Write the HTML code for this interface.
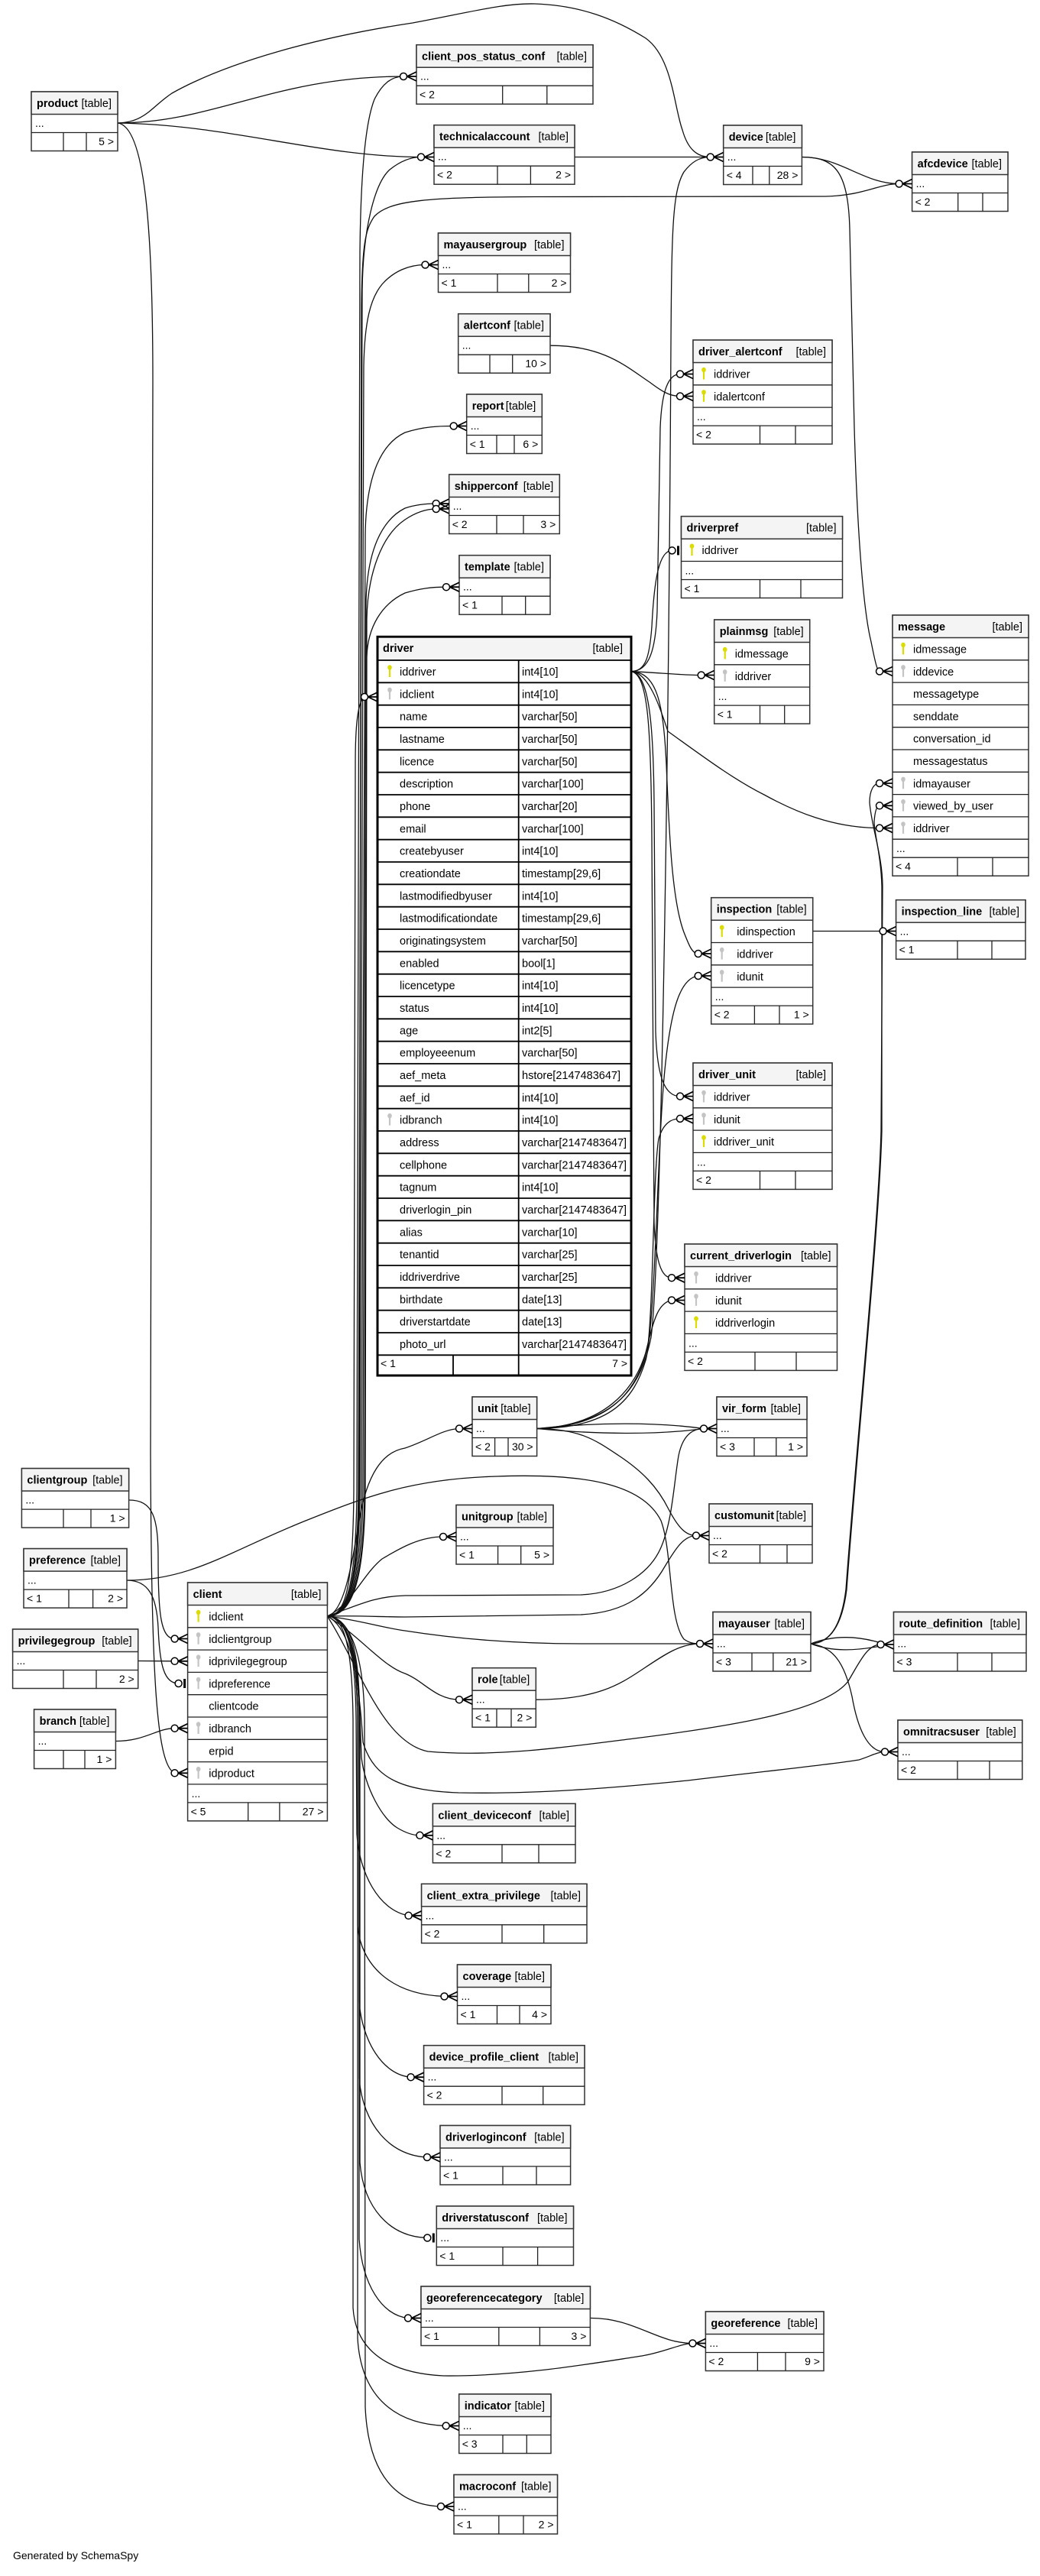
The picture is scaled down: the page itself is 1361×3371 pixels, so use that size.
<!DOCTYPE html>
<html><head><meta charset="utf-8"><title>SchemaSpy diagram</title>
<style>
html,body{margin:0;padding:0;background:#fff;}
svg{display:block;}
text{font-family:"Liberation Sans",Arial,sans-serif;font-size:14.5px;fill:#000;}
.t{font-weight:bold;}
.r{text-anchor:end;}
.s{font-size:14px;}
.b{fill:#fff;stroke:#333;stroke-width:1.5;}
.h{fill:#f4f4f4;stroke:#333;stroke-width:1.5;}
.l{fill:none;stroke:#222;stroke-width:1.3;}
.e{fill:none;stroke:#111;stroke-width:1.3;}
</style></head>
<body>
<svg xmlns="http://www.w3.org/2000/svg" width="1361" height="3371" viewBox="0 0 1361 3371">
<defs>
<g id="cr"><path d="M-12.5,0L0,-6M-12.5,0L0,0M-12.5,0L0,6" stroke="#000" stroke-width="1.8" fill="none"/><circle cx="-17" cy="0" r="4.5" fill="#fff" stroke="#000" stroke-width="1.5"/></g>
<g id="ob"><path d="M-4,-6L-4,6" stroke="#000" stroke-width="3"/><circle cx="-12" cy="0" r="4.5" fill="#fff" stroke="#000" stroke-width="1.5"/></g>
<g id="kp" fill="#dcdc00"><ellipse cx="0" cy="0" rx="2.8" ry="3.2"/><rect x="-1.1" y="1.5" width="2.2" height="11"/></g>
<g id="kf" fill="#c4c4c4"><ellipse cx="0" cy="0" rx="2.8" ry="3.2"/><rect x="-1.1" y="1.5" width="2.2" height="11"/></g>
</defs>
<rect width="1361" height="3371" fill="#fff"/>

<!-- EDGES -->
<g class="e">
<path d="M154,161 C280,161 360,100 528,100"/>
<path d="M154,161 C300,163 420,205.5 551,205.5"/>
<path d="M154,161 C190,160 198,140 225,122 C300,80 420,48 540,30 C620,15 660,4 700,5 C760,7 805,25 845,50 C880,75 882,140 893,170 C900,195 912,205.5 929.7,205.5"/>
<path d="M154,161 C190,165 200,300 200,500 L197,1900 C198,2200 205,2310 228.6,2320.3"/>
<path d="M168.6,1963 C200,1963 207,1985 207,2040 C207,2110 210,2144.5 228.6,2144.5"/>
<path d="M166,2068 C195,2068 205,2090 207,2130 C209,2180 215,2203 233.6,2203"/>
<path d="M166,2068 C250,2068 300,2030 400,1990 C480,1958 540,1935 650,1932 C760,1928 840,1940 865,1990 C880,2030 875,2120 895,2145 C902,2150 908,2151 916,2151"/>
<path d="M180.7,2173.5 L228.6,2173.8"/>
<path d="M151.4,2278.5 C190,2278.5 205,2261.7 228.6,2261.7"/>

<path d="M428.4,2115 C452,2114 462,2080 463,1950 L465,1000 C465,950 468,918 477,912"/>
<path d="M428.4,2115 C455,2114 466,2070 467,1950 L471,330 C472,230 478,160 490,130 C500,110 512,100 528,100"/>
<path d="M428.4,2115 C456,2114 468,2070 469,1950 L474,380 C475,300 490,240 510,222 C525,210 538,205.5 551,205.5"/>
<path d="M428.4,2115 C457,2114 470,2070 471,1950 L476,480 C477,420 485,390 500,372 C515,355 535,346.5 556.5,346.5"/>
<path d="M428.4,2115 C456,2114 469,2070 470,1950 L473,400 C474,320 478,300 490,283 C510,262 560,258 700,257.5 L1080,257 C1130,256 1150,240.5 1176.6,240.5"/>
<path d="M428.4,2115 C458,2114 472,2070 473,1950 L478,700 C479,620 500,580 530,566 C555,558 575,557.5 593.7,557.5"/>
<path d="M428.4,2115 C459,2114 474,2070 475,1950 L479,790 C480,720 500,680 530,665 C545,660 558,659 570.7,659"/>
<path d="M428.4,2115 C460,2114 476,2070 477,1950 L480,810 C481,750 500,700 530,680 C545,670 558,666 570.7,666"/>
<path d="M428.4,2115 C461,2114 477,2070 478,1950 L480,860 C481,820 500,790 530,776 C550,770 565,768.2 584,768.2"/>

<path d="M428.4,2115 C455,2116 468,2150 470,2220 L473,2300 C478,2340 500,2380 520,2392 C530,2398 540,2401.8 549.4,2401.8"/>
<path d="M428.4,2115 C455,2116 465,2160 466,2250 L467,2400 C470,2450 495,2500 534.6,2506.8"/>
<path d="M428.4,2115 C455,2116 467,2160 468,2250 L468,2520 C472,2570 510,2610 581.5,2612.5"/>
<path d="M428.4,2115 C455,2116 469,2160 470,2250 L470,2620 C474,2670 500,2715 537.6,2718.2"/>
<path d="M428.4,2115 C455,2116 469,2160 470,2250 L470,2720 C475,2780 510,2821 559,2823"/>
<path d="M428.4,2115 C455,2116 470,2160 471,2250 L471,2830 C476,2890 510,2927 559.3,2928.5"/>
<path d="M428.4,2115 C455,2116 469,2160 470,2250 L470,2930 C474,2990 500,3030 534,3033.5"/>
<path d="M428.4,2115 C452,2116 461,2160 462,2250 L462,3020 C465,3070 500,3105 580,3109 C680,3110 780,3092 840,3083 C870,3078 890,3067 906.4,3066.5"/>
<path d="M428.4,2115 C455,2116 467,2160 468,2250 L468,3060 C472,3130 510,3172 583.7,3174.5"/>
<path d="M428.4,2115 C456,2116 476,2160 477,2250 L478,3150 C482,3240 520,3278 577,3280"/>

<path d="M428.4,2115 C450,2110 460,2050 470,1990 C480,1930 500,1900 530,1895 C560,1885 580,1870 601,1869.5"/>
<path d="M428.4,2115 C460,2100 475,2060 500,2040 C525,2025 550,2011 580,2011"/>
<path d="M428.4,2115 C470,2100 490,2089 530,2088 L760,2087 C810,2085 850,2060 865,2025 C880,1990 882,1940 888,1905 C893,1880 905,1869.5 921,1869.5"/>
<path d="M428.4,2115 C470,2114 500,2116 530,2116 L760,2113 C820,2110 850,2085 870,2050 C885,2025 895,2010 911,2009.5"/>
<path d="M428.4,2115 C470,2120 500,2130 530,2134 C600,2145 680,2151 760,2151 L916,2151"/>
<path d="M428.4,2115 C470,2140 500,2180 530,2190 C555,2200 570,2224 601,2224.2"/>
<path d="M428.4,2115 C470,2180 500,2280 560,2292 C650,2300 750,2285 830,2275 C950,2260 1080,2240 1110,2200 C1125,2175 1135,2152 1152.5,2152"/>
<path d="M428.4,2115 C460,2130 470,2200 475,2280 C490,2330 530,2343 600,2346 C700,2348 800,2340 900,2330 C1000,2318 1080,2310 1124,2303 C1140,2298 1148,2292.5 1158,2292.5"/>

<path d="M702.6,1869.5 C780,1861 860,1861 921,1869.5"/>
<path d="M702.6,1869.5 C780,1877 860,1878 921,1869.5"/>
<path d="M702.6,1869.5 C760,1870 780,1885 810,1905 C840,1925 860,1945 875,1975 C888,2000 898,2009.5 911,2009.5"/>
<path d="M702.6,1869.5 C800,1869 830,1830 845,1780 C858,1730 860,1500 870,1400 C878,1320 890,1280 913.7,1277"/>
<path d="M702.6,1869.5 C800,1866 835,1820 848,1760 C855,1700 855,1530 862,1490 C868,1470 878,1463.9 890,1463.9"/>
<path d="M702.6,1869.5 C790,1866 830,1820 845,1770 C855,1730 860,1705 879,1701.5"/>
<path d="M702.6,1869.5 C810,1864 840,1810 852,1750 C865,1650 875,1000 878,450 C879,300 880,250 895,225 C905,212 915,205.5 929.7,205.5"/>

<path d="M826,878.7 C850,878 858,850 860,800 L864,560 C866,510 875,489.5 890,489.5"/>
<path d="M826,878.7 C845,878 850,860 853,820 C856,760 862,720.4 879.5,720.4"/>
<path d="M826,878.7 C860,880 890,883.5 917.7,883.5"/>
<path d="M826,878.7 C850,880 865,930 874,957 C920,990 960,1020 1000,1040 C1040,1062 1090,1083.6 1151,1083.6"/>
<path d="M826,878.7 C860,880 868,920 872,1000 C876,1100 880,1180 895,1220 C902,1238 906,1248 913.7,1248"/>
<path d="M826,878.7 C850,882 855,950 856,1050 L858,1350 C860,1410 870,1434.6 890,1434.6"/>
<path d="M826,878.7 C848,882 852,950 853,1100 L856,1600 C858,1650 865,1672.2 879,1672.2"/>

<path d="M1049.4,205.5 C1100,205.5 1130,240.5 1176.6,240.5"/>
<path d="M1049.4,205.5 C1090,206 1110,220 1112,300 L1118,560 C1122,700 1130,800 1140,840 C1145,865 1148,878.5 1151,878.5"/>
<path d="M752,205.5 L929.7,205.5"/>
<path d="M720,452.2 C790,452 820,480 850,500 C866,512 876,518.5 890,518.5"/>
<path d="M1063.8,1218.5 L1155.6,1218.5"/>

<path d="M1061,2151 C1090,2140 1120,2140 1152.5,2150"/>
<path d="M1061,2151 C1090,2162 1120,2160 1152.5,2154"/>
<path d="M1061,2151 C1090,2155 1105,2175 1115,2220 C1122,2260 1135,2292.5 1158,2292.5"/>
<path d="M1061,2151 C1090,2150 1102,2120 1107,2080 C1120,1900 1150,1600 1153,1480 L1155,1160 C1155,1120 1140,1080 1138,1050 C1138,1035 1143,1025 1151,1025"/>
<path d="M1061,2151 C1090,2150 1103,2120 1108,2080 C1121,1900 1151,1600 1154,1480 L1154,1160 C1153,1120 1144,1090 1144,1075 C1145,1062 1147,1054.3 1151,1054.3"/>
<path d="M701.3,2224.2 C780,2224 810,2205 840,2185 C870,2165 890,2151 916,2151"/>
<path d="M772.4,3033.5 C830,3033 860,3066.5 906.4,3066.5"/>
</g>

<!-- SIMPLE BOXES -->
<g transform="translate(41,120)"><rect class="b" width="113" height="77.5"/><rect class="h" width="113" height="29.5"/><path class="l" d="M0,53.5H113M42,53.5V77.5M72,53.5V77.5"/><text class="t" x="7" y="20">product</text><text class="r" x="105" y="20">[table]</text><text class="s" x="5" y="46">...</text><text class="s r" x="108" y="70">5 &gt;</text></g>

<g transform="translate(545,58.7)"><rect class="b" width="231" height="77.5"/><rect class="h" width="231" height="29.5"/><path class="l" d="M0,53.5H231M112.7,53.5V77.5M170.8,53.5V77.5"/><text class="t" x="7" y="20">client_pos_status_conf</text><text class="r" x="223" y="20">[table]</text><text class="s" x="5" y="46">...</text><text class="s" x="4" y="70">&lt; 2</text></g>

<g transform="translate(568,163.7)"><rect class="b" width="184" height="77.5"/><rect class="h" width="184" height="29.5"/><path class="l" d="M0,53.5H184M83,53.5V77.5M126.4,53.5V77.5"/><text class="t" x="7" y="20">technicalaccount</text><text class="r" x="176" y="20">[table]</text><text class="s" x="5" y="46">...</text><text class="s" x="4" y="70">&lt; 2</text><text class="s r" x="179" y="70">2 &gt;</text></g>

<g transform="translate(946.7,164)"><rect class="b" width="102.7" height="77.5"/><rect class="h" width="102.7" height="29.5"/><path class="l" d="M0,53.5H102.7M38.3,53.5V77.5M60.1,53.5V77.5"/><text class="t" x="7" y="20">device</text><text class="r" x="94.7" y="20">[table]</text><text class="s" x="5" y="46">...</text><text class="s" x="4" y="70">&lt; 4</text><text class="s r" x="97.7" y="70">28 &gt;</text></g>

<g transform="translate(1193.6,199)"><rect class="b" width="125.4" height="77.5"/><rect class="h" width="125.4" height="29.5"/><path class="l" d="M0,53.5H125.4M60.1,53.5V77.5M92.4,53.5V77.5"/><text class="t" x="7" y="20">afcdevice</text><text class="r" x="117.4" y="20">[table]</text><text class="s" x="5" y="46">...</text><text class="s" x="4" y="70">&lt; 2</text></g>

<g transform="translate(573.5,305)"><rect class="b" width="173" height="77.5"/><rect class="h" width="173" height="29.5"/><path class="l" d="M0,53.5H173M77.5,53.5V77.5M118.3,53.5V77.5"/><text class="t" x="7" y="20">mayausergroup</text><text class="r" x="165" y="20">[table]</text><text class="s" x="5" y="46">...</text><text class="s" x="4" y="70">&lt; 1</text><text class="s r" x="168" y="70">2 &gt;</text></g>

<g transform="translate(599.7,410.7)"><rect class="b" width="120.3" height="77.5"/><rect class="h" width="120.3" height="29.5"/><path class="l" d="M0,53.5H120.3M41.3,53.5V77.5M71,53.5V77.5"/><text class="t" x="7" y="20">alertconf</text><text class="r" x="112.3" y="20">[table]</text><text class="s" x="5" y="46">...</text><text class="s r" x="115.3" y="70">10 &gt;</text></g>

<g transform="translate(610.7,516)"><rect class="b" width="98.6" height="77.5"/><rect class="h" width="98.6" height="29.5"/><path class="l" d="M0,53.5H98.6M39.3,53.5V77.5M62.3,53.5V77.5"/><text class="t" x="7" y="20">report</text><text class="r" x="90.6" y="20">[table]</text><text class="s" x="5" y="46">...</text><text class="s" x="4" y="70">&lt; 1</text><text class="s r" x="93.6" y="70">6 &gt;</text></g>

<g transform="translate(587.7,621)"><rect class="b" width="144.6" height="77.5"/><rect class="h" width="144.6" height="29.5"/><path class="l" d="M0,53.5H144.6M62.3,53.5V77.5M97.3,53.5V77.5"/><text class="t" x="7" y="20">shipperconf</text><text class="r" x="136.6" y="20">[table]</text><text class="s" x="5" y="46">...</text><text class="s" x="4" y="70">&lt; 2</text><text class="s r" x="139.6" y="70">3 &gt;</text></g>

<g transform="translate(601,726.7)"><rect class="b" width="119" height="77.5"/><rect class="h" width="119" height="29.5"/><path class="l" d="M0,53.5H119M56,53.5V77.5M86.7,53.5V77.5"/><text class="t" x="7" y="20">template</text><text class="r" x="111" y="20">[table]</text><text class="s" x="5" y="46">...</text><text class="s" x="4" y="70">&lt; 1</text></g>

<g transform="translate(1172.6,1177.7)"><rect class="b" width="169.4" height="77.5"/><rect class="h" width="169.4" height="29.5"/><path class="l" d="M0,53.5H169.4M80.4,53.5V77.5M125.4,53.5V77.5"/><text class="t" x="7" y="20">inspection_line</text><text class="r" x="161.4" y="20">[table]</text><text class="s" x="5" y="46">...</text><text class="s" x="4" y="70">&lt; 1</text></g>

<g transform="translate(618,1828)"><rect class="b" width="84.6" height="77.5"/><rect class="h" width="84.6" height="29.5"/><path class="l" d="M0,53.5H84.6M29.6,53.5V77.5M47,53.5V77.5"/><text class="t" x="7" y="20">unit</text><text class="r" x="76.6" y="20">[table]</text><text class="s" x="5" y="46">...</text><text class="s" x="4" y="70">&lt; 2</text><text class="s r" x="79.6" y="70">30 &gt;</text></g>

<g transform="translate(938,1828)"><rect class="b" width="118" height="77.5"/><rect class="h" width="118" height="29.5"/><path class="l" d="M0,53.5H118M49,53.5V77.5M77.8,53.5V77.5"/><text class="t" x="7" y="20">vir_form</text><text class="r" x="110" y="20">[table]</text><text class="s" x="5" y="46">...</text><text class="s" x="4" y="70">&lt; 3</text><text class="s r" x="113" y="70">1 &gt;</text></g>

<g transform="translate(28.4,1921.6)"><rect class="b" width="140.2" height="77.5"/><rect class="h" width="140.2" height="29.5"/><path class="l" d="M0,53.5H140.2M54.6,53.5V77.5M90.6,53.5V77.5"/><text class="t" x="7" y="20">clientgroup</text><text class="r" x="132.2" y="20">[table]</text><text class="s" x="5" y="46">...</text><text class="s r" x="135.2" y="70">1 &gt;</text></g>

<g transform="translate(597,1969.5)"><rect class="b" width="127" height="77.5"/><rect class="h" width="127" height="29.5"/><path class="l" d="M0,53.5H127M54.6,53.5V77.5M84.7,53.5V77.5"/><text class="t" x="7" y="20">unitgroup</text><text class="r" x="119" y="20">[table]</text><text class="s" x="5" y="46">...</text><text class="s" x="4" y="70">&lt; 1</text><text class="s r" x="122" y="70">5 &gt;</text></g>

<g transform="translate(928,1968)"><rect class="b" width="135" height="77.5"/><rect class="h" width="135" height="29.5"/><path class="l" d="M0,53.5H135M66.5,53.5V77.5M102,53.5V77.5"/><text class="t" x="7" y="20">customunit</text><text class="r" x="127" y="20">[table]</text><text class="s" x="5" y="46">...</text><text class="s" x="4" y="70">&lt; 2</text></g>

<g transform="translate(31,2026.6)"><rect class="b" width="135" height="77.5"/><rect class="h" width="135" height="29.5"/><path class="l" d="M0,53.5H135M59,53.5V77.5M90.6,53.5V77.5"/><text class="t" x="7" y="20">preference</text><text class="r" x="127" y="20">[table]</text><text class="s" x="5" y="46">...</text><text class="s" x="4" y="70">&lt; 1</text><text class="s r" x="130" y="70">2 &gt;</text></g>

<g transform="translate(933,2109.5)"><rect class="b" width="128" height="77.5"/><rect class="h" width="128" height="29.5"/><path class="l" d="M0,53.5H128M51,53.5V77.5M78.8,53.5V77.5"/><text class="t" x="7" y="20">mayauser</text><text class="r" x="120" y="20">[table]</text><text class="s" x="5" y="46">...</text><text class="s" x="4" y="70">&lt; 3</text><text class="s r" x="123" y="70">21 &gt;</text></g>

<g transform="translate(1169.5,2109.5)"><rect class="b" width="173.5" height="77.5"/><rect class="h" width="173.5" height="29.5"/><path class="l" d="M0,53.5H173.5M83.5,53.5V77.5M128.5,53.5V77.5"/><text class="t" x="7" y="20">route_definition</text><text class="r" x="165.5" y="20">[table]</text><text class="s" x="5" y="46">...</text><text class="s" x="4" y="70">&lt; 3</text></g>

<g transform="translate(16.6,2132)"><rect class="b" width="164.1" height="77.5"/><rect class="h" width="164.1" height="29.5"/><path class="l" d="M0,53.5H164.1M66.4,53.5V77.5M109.4,53.5V77.5"/><text class="t" x="7" y="20">privilegegroup</text><text class="r" x="156.1" y="20">[table]</text><text class="s" x="5" y="46">...</text><text class="s r" x="159.1" y="70">2 &gt;</text></g>

<g transform="translate(618,2182.7)"><rect class="b" width="83.3" height="77.5"/><rect class="h" width="83.3" height="29.5"/><path class="l" d="M0,53.5H83.3M32,53.5V77.5M51,53.5V77.5"/><text class="t" x="7" y="20">role</text><text class="r" x="75.3" y="20">[table]</text><text class="s" x="5" y="46">...</text><text class="s" x="4" y="70">&lt; 1</text><text class="s r" x="78.3" y="70">2 &gt;</text></g>

<g transform="translate(44.6,2237)"><rect class="b" width="106.8" height="77.5"/><rect class="h" width="106.8" height="29.5"/><path class="l" d="M0,53.5H106.8M38.4,53.5V77.5M66.4,53.5V77.5"/><text class="t" x="7" y="20">branch</text><text class="r" x="98.8" y="20">[table]</text><text class="s" x="5" y="46">...</text><text class="s r" x="101.8" y="70">1 &gt;</text></g>

<g transform="translate(1175,2251)"><rect class="b" width="162.8" height="77.5"/><rect class="h" width="162.8" height="29.5"/><path class="l" d="M0,53.5H162.8M78,53.5V77.5M120,53.5V77.5"/><text class="t" x="7" y="20">omnitracsuser</text><text class="r" x="154.8" y="20">[table]</text><text class="s" x="5" y="46">...</text><text class="s" x="4" y="70">&lt; 2</text></g>

<g transform="translate(566.4,2360.3)"><rect class="b" width="186.6" height="77.5"/><rect class="h" width="186.6" height="29.5"/><path class="l" d="M0,53.5H186.6M90.6,53.5V77.5M138.6,53.5V77.5"/><text class="t" x="7" y="20">client_deviceconf</text><text class="r" x="178.6" y="20">[table]</text><text class="s" x="5" y="46">...</text><text class="s" x="4" y="70">&lt; 2</text></g>

<g transform="translate(551.6,2465.3)"><rect class="b" width="216.4" height="77.5"/><rect class="h" width="216.4" height="29.5"/><path class="l" d="M0,53.5H216.4M105.4,53.5V77.5M160.1,53.5V77.5"/><text class="t" x="7" y="20">client_extra_privilege</text><text class="r" x="208.4" y="20">[table]</text><text class="s" x="5" y="46">...</text><text class="s" x="4" y="70">&lt; 2</text></g>

<g transform="translate(598.5,2571)"><rect class="b" width="122.5" height="77.5"/><rect class="h" width="122.5" height="29.5"/><path class="l" d="M0,53.5H122.5M52,53.5V77.5M81.5,53.5V77.5"/><text class="t" x="7" y="20">coverage</text><text class="r" x="114.5" y="20">[table]</text><text class="s" x="5" y="46">...</text><text class="s" x="4" y="70">&lt; 1</text><text class="s r" x="117.5" y="70">4 &gt;</text></g>

<g transform="translate(554.6,2676.7)"><rect class="b" width="210.4" height="77.5"/><rect class="h" width="210.4" height="29.5"/><path class="l" d="M0,53.5H210.4M102.4,53.5V77.5M156.1,53.5V77.5"/><text class="t" x="7" y="20">device_profile_client</text><text class="r" x="202.4" y="20">[table]</text><text class="s" x="5" y="46">...</text><text class="s" x="4" y="70">&lt; 2</text></g>

<g transform="translate(576,2781.5)"><rect class="b" width="170.6" height="77.5"/><rect class="h" width="170.6" height="29.5"/><path class="l" d="M0,53.5H170.6M82,53.5V77.5M126,53.5V77.5"/><text class="t" x="7" y="20">driverloginconf</text><text class="r" x="162.6" y="20">[table]</text><text class="s" x="5" y="46">...</text><text class="s" x="4" y="70">&lt; 1</text></g>

<g transform="translate(571.3,2887)"><rect class="b" width="179.2" height="77.5"/><rect class="h" width="179.2" height="29.5"/><path class="l" d="M0,53.5H179.2M86.7,53.5V77.5M132.3,53.5V77.5"/><text class="t" x="7" y="20">driverstatusconf</text><text class="r" x="171.2" y="20">[table]</text><text class="s" x="5" y="46">...</text><text class="s" x="4" y="70">&lt; 1</text></g>

<g transform="translate(551,2992)"><rect class="b" width="221.4" height="77.5"/><rect class="h" width="221.4" height="29.5"/><path class="l" d="M0,53.5H221.4M101.8,53.5V77.5M155.4,53.5V77.5"/><text class="t" x="7" y="20">georeferencecategory</text><text class="r" x="213.4" y="20">[table]</text><text class="s" x="5" y="46">...</text><text class="s" x="4" y="70">&lt; 1</text><text class="s r" x="216.4" y="70">3 &gt;</text></g>

<g transform="translate(923.4,3025)"><rect class="b" width="154.6" height="77.5"/><rect class="h" width="154.6" height="29.5"/><path class="l" d="M0,53.5H154.6M68,53.5V77.5M104.6,53.5V77.5"/><text class="t" x="7" y="20">georeference</text><text class="r" x="146.6" y="20">[table]</text><text class="s" x="5" y="46">...</text><text class="s" x="4" y="70">&lt; 2</text><text class="s r" x="149.6" y="70">9 &gt;</text></g>

<g transform="translate(600.7,3133)"><rect class="b" width="120.3" height="77.5"/><rect class="h" width="120.3" height="29.5"/><path class="l" d="M0,53.5H120.3M57.3,53.5V77.5M88.6,53.5V77.5"/><text class="t" x="7" y="20">indicator</text><text class="r" x="112.3" y="20">[table]</text><text class="s" x="5" y="46">...</text><text class="s" x="4" y="70">&lt; 3</text></g>

<g transform="translate(594,3238.5)"><rect class="b" width="135.5" height="77.5"/><rect class="h" width="135.5" height="29.5"/><path class="l" d="M0,53.5H135.5M58.8,53.5V77.5M91,53.5V77.5"/><text class="t" x="7" y="20">macroconf</text><text class="r" x="127.5" y="20">[table]</text><text class="s" x="5" y="46">...</text><text class="s" x="4" y="70">&lt; 1</text><text class="s r" x="130.5" y="70">2 &gt;</text></g>

<!-- COLUMN BOXES -->
<g transform="translate(907,445)"><rect class="b" width="182" height="136.1"/><rect class="h" width="182" height="29.5"/><path class="l" d="M0,58.8H182M0,88.1H182M0,112.1H182M87.5,112.1V136.1M134,112.1V136.1"/><text class="t" x="7" y="20">driver_alertconf</text><text class="r" x="174" y="20">[table]</text><use href="#kp" x="14" y="39"/><text x="27" y="49.5">iddriver</text><use href="#kp" x="14" y="68.3"/><text x="27" y="78.8">idalertconf</text><text class="s" x="5" y="105.1">...</text><text class="s" x="4" y="128.6">&lt; 2</text></g>

<g transform="translate(891.5,675.7)"><rect class="b" width="211" height="106.8"/><rect class="h" width="211" height="29.5"/><path class="l" d="M0,58.8H211M0,82.8H211M103,82.8V106.8M156.5,82.8V106.8"/><text class="t" x="7" y="20">driverpref</text><text class="r" x="203" y="20">[table]</text><use href="#kp" x="14" y="39"/><text x="27" y="49.5">iddriver</text><text class="s" x="5" y="75.8">...</text><text class="s" x="4" y="99.3">&lt; 1</text></g>

<g transform="translate(934.7,811)"><rect class="b" width="125" height="136.1"/><rect class="h" width="125" height="29.5"/><path class="l" d="M0,58.8H125M0,88.1H125M0,112.1H125M59.8,112.1V136.1M92,112.1V136.1"/><text class="t" x="7" y="20">plainmsg</text><text class="r" x="117" y="20">[table]</text><use href="#kp" x="14" y="39"/><text x="27" y="49.5">idmessage</text><use href="#kf" x="14" y="68.3"/><text x="27" y="78.8">iddriver</text><text class="s" x="5" y="105.1">...</text><text class="s" x="4" y="128.6">&lt; 1</text></g>

<g transform="translate(1168,805)"><rect class="b" width="178" height="341.2"/><rect class="h" width="178" height="29.5"/><path class="l" d="M0,58.8H178M0,88.1H178M0,117.4H178M0,146.7H178M0,176H178M0,205.3H178M0,234.6H178M0,263.9H178M0,293.2H178M0,317.2H178M85,317.2V341.2M131,317.2V341.2"/><text class="t" x="7" y="20">message</text><text class="r" x="170" y="20">[table]</text>
<use href="#kp" x="14" y="39"/><text x="27" y="49.5">idmessage</text>
<use href="#kf" x="14" y="68.3"/><text x="27" y="78.8">iddevice</text>
<text x="27" y="108.1">messagetype</text>
<text x="27" y="137.4">senddate</text>
<text x="27" y="166.7">conversation_id</text>
<text x="27" y="196">messagestatus</text>
<use href="#kf" x="14" y="214.8"/><text x="27" y="225.3">idmayauser</text>
<use href="#kf" x="14" y="244.1"/><text x="27" y="254.6">viewed_by_user</text>
<use href="#kf" x="14" y="273.4"/><text x="27" y="283.9">iddriver</text>
<text class="s" x="5" y="310.2">...</text><text class="s" x="4" y="333.7">&lt; 4</text></g>

<g transform="translate(930.7,1174.7)"><rect class="b" width="133" height="165.4"/><rect class="h" width="133" height="29.5"/><path class="l" d="M0,58.8H133M0,88.1H133M0,117.4H133M0,141.4H133M56.7,141.4V165.4M89.3,141.4V165.4"/><text class="t" x="7" y="20">inspection</text><text class="r" x="125" y="20">[table]</text><use href="#kp" x="14" y="39"/><text x="33.5" y="49.5">idinspection</text><use href="#kf" x="14" y="68.3"/><text x="33.5" y="78.8">iddriver</text><use href="#kf" x="14" y="97.6"/><text x="33.5" y="108.1">idunit</text><text class="s" x="5" y="134.4">...</text><text class="s" x="4" y="157.9">&lt; 2</text><text class="s r" x="128" y="157.9">1 &gt;</text></g>

<g transform="translate(907,1391)"><rect class="b" width="182" height="165.4"/><rect class="h" width="182" height="29.5"/><path class="l" d="M0,58.8H182M0,88.1H182M0,117.4H182M0,141.4H182M87.5,141.4V165.4M134,141.4V165.4"/><text class="t" x="7" y="20">driver_unit</text><text class="r" x="174" y="20">[table]</text><use href="#kf" x="14" y="39"/><text x="27" y="49.5">iddriver</text><use href="#kf" x="14" y="68.3"/><text x="27" y="78.8">idunit</text><use href="#kp" x="14" y="97.6"/><text x="27" y="108.1">iddriver_unit</text><text class="s" x="5" y="134.4">...</text><text class="s" x="4" y="157.9">&lt; 2</text></g>

<g transform="translate(896,1628)"><rect class="b" width="199.5" height="165.4"/><rect class="h" width="199.5" height="29.5"/><path class="l" d="M0,58.8H199.5M0,88.1H199.5M0,117.4H199.5M0,141.4H199.5M92,141.4V165.4M146,141.4V165.4"/><text class="t" x="7" y="20">current_driverlogin</text><text class="r" x="191.5" y="20">[table]</text><use href="#kf" x="15" y="39"/><text x="40" y="49.5">iddriver</text><use href="#kf" x="15" y="68.3"/><text x="40" y="78.8">idunit</text><use href="#kp" x="15" y="97.6"/><text x="40" y="108.1">iddriverlogin</text><text class="s" x="5" y="134.4">...</text><text class="s" x="4" y="157.9">&lt; 2</text></g>

<g transform="translate(245.6,2071)"><rect class="b" width="182.8" height="311.9"/><rect class="h" width="182.8" height="29.5"/><path class="l" d="M0,58.8H182.8M0,88.1H182.8M0,117.4H182.8M0,146.7H182.8M0,176H182.8M0,205.3H182.8M0,234.6H182.8M0,263.9H182.8M0,287.9H182.8M79.1,287.9V311.9M120.3,287.9V311.9"/><text class="t" x="7" y="20">client</text><text class="r" x="174.8" y="20">[table]</text>
<use href="#kp" x="14" y="39"/><text x="27.7" y="49.5">idclient</text>
<use href="#kf" x="14" y="68.3"/><text x="27.7" y="78.8">idclientgroup</text>
<use href="#kf" x="14" y="97.6"/><text x="27.7" y="108.1">idprivilegegroup</text>
<use href="#kf" x="14" y="126.9"/><text x="27.7" y="137.4">idpreference</text>
<text x="27.7" y="166.7">clientcode</text>
<use href="#kf" x="14" y="185.5"/><text x="27.7" y="196">idbranch</text>
<text x="27.7" y="225.3">erpid</text>
<use href="#kf" x="14" y="244.1"/><text x="27.7" y="254.6">idproduct</text>
<text class="s" x="5" y="280.9">...</text><text class="s" x="4" y="304.4">&lt; 5</text><text class="s r" x="177.8" y="304.4">27 &gt;</text></g>

<!-- DRIVER -->
<g>
<rect x="494" y="833.3" width="332" height="966.7" fill="#fff" stroke="#000" stroke-width="3"/>
<rect x="495.5" y="834.8" width="329" height="29.2" fill="#f4f4f4"/>
<path fill="none" stroke="#000" stroke-width="1.8" d="M494,864H826M494,893.3H826M494,922.7H826M494,952H826M494,981.3H826M494,1010.7H826M494,1040H826M494,1069.3H826M494,1098.7H826M494,1128H826M494,1157.3H826M494,1186.7H826M494,1216H826M494,1245.3H826M494,1274.7H826M494,1304H826M494,1333.3H826M494,1362.7H826M494,1392H826M494,1421.3H826M494,1450.7H826M494,1480H826M494,1509.3H826M494,1538.7H826M494,1568H826M494,1597.3H826M494,1626.7H826M494,1656H826M494,1685.3H826M494,1714.7H826M494,1744H826M494,1773.3H826M678.7,864V1800M593,1773.3V1800"/>
<text class="t" x="501" y="853">driver</text><text class="r" x="815" y="853">[table]</text>
<use href="#kp" x="510" y="873.5"/>
<use href="#kf" x="510" y="902.8"/>
<use href="#kf" x="510" y="1460.2"/>
<text x="523" y="884">iddriver</text><text x="683" y="884">int4[10]</text>
<text x="523" y="913.3">idclient</text><text x="683" y="913.3">int4[10]</text>
<text x="523" y="942.7">name</text><text x="683" y="942.7">varchar[50]</text>
<text x="523" y="972">lastname</text><text x="683" y="972">varchar[50]</text>
<text x="523" y="1001.3">licence</text><text x="683" y="1001.3">varchar[50]</text>
<text x="523" y="1030.7">description</text><text x="683" y="1030.7">varchar[100]</text>
<text x="523" y="1060">phone</text><text x="683" y="1060">varchar[20]</text>
<text x="523" y="1089.3">email</text><text x="683" y="1089.3">varchar[100]</text>
<text x="523" y="1118.7">createbyuser</text><text x="683" y="1118.7">int4[10]</text>
<text x="523" y="1148">creationdate</text><text x="683" y="1148">timestamp[29,6]</text>
<text x="523" y="1177.3">lastmodifiedbyuser</text><text x="683" y="1177.3">int4[10]</text>
<text x="523" y="1206.7">lastmodificationdate</text><text x="683" y="1206.7">timestamp[29,6]</text>
<text x="523" y="1236">originatingsystem</text><text x="683" y="1236">varchar[50]</text>
<text x="523" y="1265.3">enabled</text><text x="683" y="1265.3">bool[1]</text>
<text x="523" y="1294.7">licencetype</text><text x="683" y="1294.7">int4[10]</text>
<text x="523" y="1324">status</text><text x="683" y="1324">int4[10]</text>
<text x="523" y="1353.3">age</text><text x="683" y="1353.3">int2[5]</text>
<text x="523" y="1382.7">employeeenum</text><text x="683" y="1382.7">varchar[50]</text>
<text x="523" y="1412">aef_meta</text><text x="683" y="1412">hstore[2147483647]</text>
<text x="523" y="1441.3">aef_id</text><text x="683" y="1441.3">int4[10]</text>
<text x="523" y="1470.7">idbranch</text><text x="683" y="1470.7">int4[10]</text>
<text x="523" y="1500">address</text><text x="683" y="1500">varchar[2147483647]</text>
<text x="523" y="1529.3">cellphone</text><text x="683" y="1529.3">varchar[2147483647]</text>
<text x="523" y="1558.7">tagnum</text><text x="683" y="1558.7">int4[10]</text>
<text x="523" y="1588">driverlogin_pin</text><text x="683" y="1588">varchar[2147483647]</text>
<text x="523" y="1617.3">alias</text><text x="683" y="1617.3">varchar[10]</text>
<text x="523" y="1646.7">tenantid</text><text x="683" y="1646.7">varchar[25]</text>
<text x="523" y="1676">iddriverdrive</text><text x="683" y="1676">varchar[25]</text>
<text x="523" y="1705.3">birthdate</text><text x="683" y="1705.3">date[13]</text>
<text x="523" y="1734.7">driverstartdate</text><text x="683" y="1734.7">date[13]</text>
<text x="523" y="1764">photo_url</text><text x="683" y="1764">varchar[2147483647]</text>
<text class="s" x="498" y="1789">&lt; 1</text><text class="s r" x="821" y="1789">7 &gt;</text>
</g>

<!-- MARKERS -->
<use href="#cr" x="545" y="100"/>
<use href="#cr" x="568" y="205.5"/>
<use href="#cr" x="946.7" y="205.5"/>
<use href="#cr" x="1193.6" y="240.5"/>
<use href="#cr" x="573.5" y="346.5"/>
<use href="#cr" x="907" y="489.5"/>
<use href="#cr" x="907" y="518.5"/>
<use href="#cr" x="610.7" y="557.5"/>
<use href="#cr" x="587.7" y="659"/>
<use href="#cr" x="587.7" y="666"/>
<use href="#cr" x="601" y="768.2"/>
<use href="#cr" x="934.7" y="883.5"/>
<use href="#cr" x="1168" y="878.5"/>
<use href="#cr" x="1168" y="1025"/>
<use href="#cr" x="1168" y="1054.3"/>
<use href="#cr" x="1168" y="1083.6"/>
<use href="#cr" x="494" y="912"/>
<use href="#cr" x="930.7" y="1248"/>
<use href="#cr" x="930.7" y="1277"/>
<use href="#cr" x="1172.6" y="1218.5"/>
<use href="#cr" x="907" y="1434.6"/>
<use href="#cr" x="907" y="1463.9"/>
<use href="#cr" x="896" y="1672.2"/>
<use href="#cr" x="896" y="1701.5"/>
<use href="#cr" x="618" y="1869.5"/>
<use href="#cr" x="938" y="1869.5"/>
<use href="#cr" x="597" y="2011"/>
<use href="#cr" x="928" y="2009.5"/>
<use href="#cr" x="933" y="2151"/>
<use href="#cr" x="1169.5" y="2152"/>
<use href="#cr" x="618" y="2224.2"/>
<use href="#cr" x="1175" y="2292.5"/>
<use href="#cr" x="245.6" y="2144.5"/>
<use href="#cr" x="245.6" y="2173.8"/>
<use href="#cr" x="245.6" y="2261.7"/>
<use href="#cr" x="245.6" y="2320.3"/>
<use href="#cr" x="566.4" y="2401.8"/>
<use href="#cr" x="551.6" y="2506.8"/>
<use href="#cr" x="598.5" y="2612.5"/>
<use href="#cr" x="554.6" y="2718.2"/>
<use href="#cr" x="576" y="2823"/>
<use href="#cr" x="551" y="3033.5"/>
<use href="#cr" x="923.4" y="3066.5"/>
<use href="#cr" x="600.7" y="3174.5"/>
<use href="#cr" x="594" y="3280"/>
<use href="#ob" x="891.5" y="720.4"/>
<use href="#ob" x="245.6" y="2203"/>
<use href="#ob" x="571.3" y="2928.5"/>

<text class="s" x="17" y="3349" fill="#222">Generated by SchemaSpy</text>
</svg>
</body></html>
